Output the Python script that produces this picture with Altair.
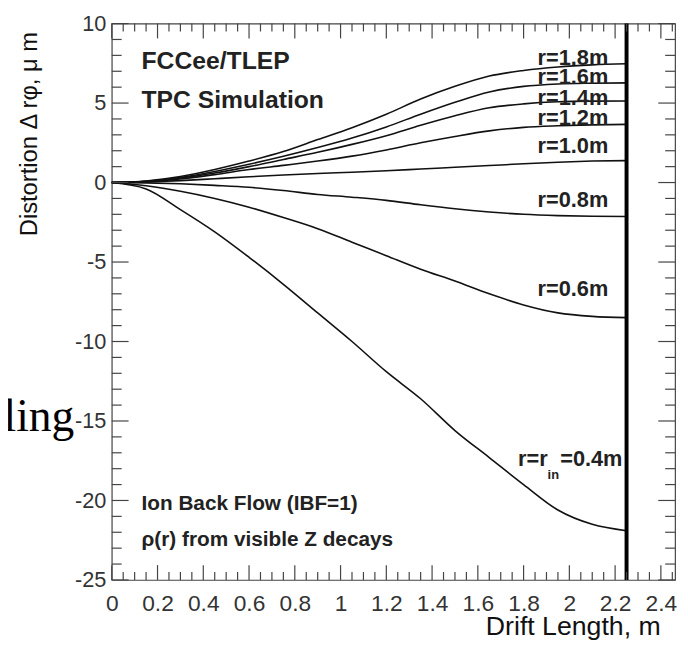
import altair as alt
import pandas as pd

# ---------------- data ----------------
drift = [0, 0.15, 0.3, 0.45, 0.6, 0.75, 0.9, 1.05, 1.2, 1.35, 1.5, 1.65, 1.8, 1.95, 2.1, 2.25]
r18 = [0, 0.10, 0.38, 0.82, 1.35, 1.95, 2.70, 3.45, 4.30, 5.25, 6.05, 6.70, 7.05, 7.27, 7.40, 7.47]
r16 = [0, 0.08, 0.32, 0.70, 1.15, 1.65, 2.20, 2.80, 3.50, 4.30, 5.05, 5.70, 6.05, 6.20, 6.25, 6.27]
r14 = [0, 0.07, 0.28, 0.60, 1.00, 1.45, 1.90, 2.40, 2.95, 3.60, 4.20, 4.70, 4.95, 5.08, 5.12, 5.13]
r12 = [0, 0.06, 0.22, 0.50, 0.82, 1.08, 1.35, 1.66, 2.05, 2.50, 2.90, 3.25, 3.47, 3.57, 3.63, 3.66]
r10 = [0, 0.04, 0.12, 0.24, 0.36, 0.47, 0.57, 0.65, 0.74, 0.85, 0.96, 1.07, 1.18, 1.28, 1.35, 1.38]
r08 = [0, -0.02, -0.08, -0.18, -0.30, -0.50, -0.75, -0.92, -1.12, -1.40, -1.65, -1.85, -2.00, -2.08, -2.12, -2.14]
r06 = [0, -0.20, -0.55, -1.00, -1.55, -2.20, -2.90, -3.75, -4.60, -5.45, -6.20, -7.00, -7.70, -8.20, -8.42, -8.50]
r04 = [0, -0.40, -1.70, -3.10, -4.70, -6.40, -8.20, -10.0, -11.9, -13.6, -15.6, -17.3, -19.0, -20.6, -21.5, -21.9]

series = {"1.8": r18, "1.6": r16, "1.4": r14, "1.2": r12,
          "1.0": r10, "0.8": r08, "0.6": r06, "0.4": r04}

curve_labels = ["r=1.8m", "r=1.6m", "r=1.4m", "r=1.2m", "r=1.0m", "r=0.8m", "r=0.6m"]
label_y = [7.8, 6.65, 5.31, 4.07, 2.3, -1.12, -6.71]
label_x = 2.17

drift_end = [2.25]

x_major = [0, 0.2, 0.4, 0.6, 0.8, 1, 1.2, 1.4, 1.6, 1.8, 2, 2.2, 2.4]
x_minor = [round(i * 0.05, 2) for i in range(50) if i % 4 != 0]
y_major = [-25, -20, -15, -10, -5, 0, 5, 10]
y_minor = [v for v in range(-25, 11) if v % 5 != 0]

# ---------------- build ----------------
rows = []
for r, vals in series.items():
    for x, v in zip(drift, vals):
        rows.append({"r": r, "drift": x, "dist": v})
df = pd.DataFrame(rows)

W, H = 570, 563
FONT = "Liberation Sans"
TC = "#444"

xs = alt.Scale(domain=[0, 2.462], nice=False, zero=False)
ys = alt.Scale(domain=[-25, 10], nice=False, zero=False)

xa = alt.Axis(values=x_major, labelExpr="toString(datum.value)", ticks=False, tickSize=0,
              domain=False, grid=False,
              labelFontSize=23, labelFont=FONT, labelColor="#333", labelPadding=13,
              labelFlush=False, labelOverlap=False,
              title="Drift Length, m", titleFont=FONT, titleFontSize=27,
              titleFontWeight="normal", titleColor="#111",
              titleX=W - 15, titleY=55, titleAlign="right", titleBaseline="alphabetic")
ya = alt.Axis(values=y_major, labelExpr="toString(datum.value)", ticks=False, tickSize=0,
              domain=False, grid=False,
              labelFontSize=22, labelFont=FONT, labelColor="#333", labelPadding=6,
              labelFlush=False, labelOverlap=False,
              title="Distortion  Δ  rφ,  μ m", titleFont=FONT, titleFontSize=24,
              titleFontWeight="normal", titleColor="#111",
              titleX=-83, titleY=8, titleAngle=-90, titleAlign="right",
              titleBaseline="middle")


def X(f):
    return alt.X(f, scale=xs, axis=xa)


def Y(f):
    return alt.Y(f, scale=ys, axis=ya)


lines = alt.Chart(df).mark_line(color="#111", strokeWidth=1.6, interpolate="monotone").encode(
    x=X("drift:Q"), y=Y("dist:Q"), detail="r:N")

end_rule = alt.Chart(pd.DataFrame({"x": drift_end})).mark_rule(color="#000", strokeWidth=4).encode(
    x=X("x:Q"), y=alt.value(0), y2=alt.value(H))


def xticks(vals, L):
    d = pd.DataFrame({"v": vals})
    base = alt.Chart(d).mark_rule(color=TC, strokeWidth=1.2)
    return [
        base.encode(x=X("v:Q"), y=alt.value(H - L), y2=alt.value(H)),
        base.encode(x=X("v:Q"), y=alt.value(0), y2=alt.value(L)),
    ]


def yticks(vals, L):
    d = pd.DataFrame({"v": vals})
    base = alt.Chart(d).mark_rule(color=TC, strokeWidth=1.2)
    return [
        base.encode(y=Y("v:Q"), x=alt.value(0), x2=alt.value(L)),
        base.encode(y=Y("v:Q"), x=alt.value(W - L), x2=alt.value(W)),
    ]


ticks = xticks(x_major, 15) + xticks(x_minor, 8) + yticks(y_major, 17) + yticks(y_minor, 10)


def text_layer(d, align, size, weight="bold", font=FONT, color="#222"):
    return alt.Chart(d).mark_text(align=align, baseline="middle", font=font, fontSize=size,
                                  fontWeight=weight, color=color).encode(
        x=X("x:Q"), y=Y("y:Q"), text="t:N")


lab_df = pd.DataFrame({"t": curve_labels, "x": [label_x] * len(curve_labels), "y": label_y})
curve_text = text_layer(lab_df, "right", 22)

rin_a = text_layer(pd.DataFrame({"t": ["r=r"], "x": [1.905], "y": [-17.4]}), "right", 22)
rin_b = text_layer(pd.DataFrame({"t": ["in"], "x": [1.905], "y": [-18.4]}), "left", 13)
rin_c = text_layer(pd.DataFrame({"t": ["=0.4m"], "x": [1.96], "y": [-17.4]}), "left", 22)

top_df = pd.DataFrame({"t": ["FCCee/TLEP", "TPC Simulation"], "x": [0.13, 0.13], "y": [7.61, 5.19]})
top_text = text_layer(top_df, "left", 25)

bot_df = pd.DataFrame({"t": ["Ion Back Flow (IBF=1)", "ρ(r) from visible Z decays"],
                       "x": [0.13, 0.13], "y": [-20.23, -22.47]})
bot_text = text_layer(bot_df, "left", 21)

ling_df = pd.DataFrame({"t": ["ling"], "y": [-15.63]})
ling_text = alt.Chart(ling_df).mark_text(align="right", baseline="alphabetic", font="Liberation Serif",
                                         fontSize=46, color="#000").encode(
    x=alt.value(-38), y=Y("y:Q"), text="t:N")

chart = alt.layer(lines, end_rule, *ticks, curve_text, rin_a, rin_b, rin_c, top_text, bot_text,
                  ling_text).properties(
    width=W, height=H,
    padding={"left": 105, "top": 12, "right": 5, "bottom": 57},
    autosize="none", background="white",
).configure_view(stroke=TC, strokeWidth=1.2)

chart.save("out.html", embed_options={"renderer": "svg", "actions": False})
